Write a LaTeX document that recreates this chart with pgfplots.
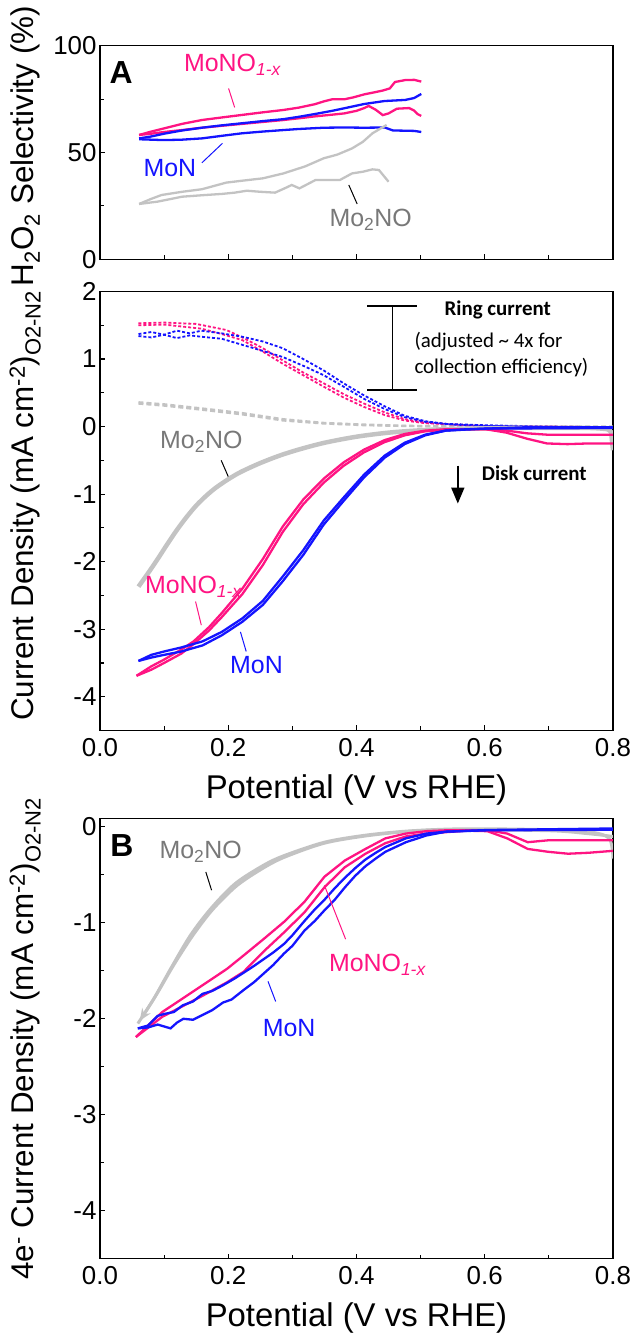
\documentclass[border=0pt]{standalone}
\usepackage{fontspec}
\setmainfont{Liberation Sans}
\newfontfamily\calibrifont{Carlito}
\usepackage{pgfplots}
\pgfplotsset{compat=1.18}
\usetikzlibrary{arrows.meta}
\definecolor{mpink}{RGB}{255,20,130}
\definecolor{mblue}{RGB}{20,20,255}
\definecolor{mgray}{RGB}{195,195,195}
\definecolor{tgray}{RGB}{120,120,120}
\pgfplotsset{panel/.style={
  scale only axis, width=513bp, xmin=0, xmax=0.8,
  axis line style={line width=1.3bp},
  tick style={line width=1.1bp, black},
  tick align=inside, xtick pos=lower, ytick pos=left,
  major tick length=5bp, minor tick length=4bp,
  xtick={0,0.2,0.4,0.6,0.8}, minor xtick={0.1,0.3,0.5,0.7},
  tick label style={font=\fontsize{26}{30}\selectfont},
  /pgf/number format/assume math mode=true,
  xticklabel style={yshift=-4bp,/pgf/number format/.cd,fixed,fixed zerofill,precision=1},
  label style={font=\fontsize{31.5}{36}\selectfont},
  xlabel style={font=\fontsize{33}{38}\selectfont},
  clip mode=individual,
  every axis plot/.append style={line width=2.3bp},
}}
\begin{document}
\begin{tikzpicture}
\path[use as bounding box] (0,0) rectangle (636bp,1337bp);
% ---------------- Top panel
\begin{axis}[panel, at={(100bp,1077.7bp)}, anchor=south west, height=213.6bp,
  ymin=0, ymax=100, ytick={0,50,100}, minor ytick={25,75}, xticklabels={},
  ylabel={H\textsubscript{2}O\textsubscript{2} Selectivity (\%)},
  ylabel style={at={(axis description cs:-0.146,0.53)},anchor=center}]
\addplot[mpink] coordinates {(0.061,58.2)(0.08,59.8)(0.10,61.3)(0.128,63.4)(0.159,65.2)(0.19,66.4)(0.222,67.6)(0.254,68.8)(0.286,69.9)(0.31,71.0)(0.335,72.6)(0.35,74.0)(0.362,74.9)(0.381,74.9)(0.395,75.8)(0.412,77.2)(0.43,78.3)(0.441,79.0)(0.452,80.0)(0.46,83.0)(0.476,83.9)(0.49,84.0)(0.501,83.2)};
\addplot[mpink] coordinates {(0.061,58.2)(0.08,58.8)(0.10,59.6)(0.128,60.5)(0.159,61.6)(0.19,62.5)(0.222,63.4)(0.254,64.3)(0.286,65.2)(0.31,66.0)(0.335,66.9)(0.362,67.7)(0.381,68.3)(0.40,69.5)(0.412,70.8)(0.419,71.8)(0.43,70.0)(0.441,67.5)(0.45,68.3)(0.463,70.5)(0.482,70.8)(0.49,69.6)(0.495,68.0)(0.501,67.1)};
\addplot[mblue] coordinates {(0.061,56.6)(0.08,57.5)(0.10,58.8)(0.128,60.3)(0.159,61.6)(0.19,62.7)(0.222,63.7)(0.254,64.7)(0.286,65.6)(0.31,66.7)(0.335,68.0)(0.362,69.5)(0.381,70.7)(0.412,72.7)(0.444,74.1)(0.476,74.6)(0.49,75.5)(0.501,77.4)};
\addplot[mblue] coordinates {(0.061,56.2)(0.08,56.0)(0.10,55.8)(0.128,56.0)(0.159,56.6)(0.19,57.8)(0.222,59.0)(0.254,59.8)(0.286,60.5)(0.31,61.0)(0.349,61.6)(0.381,61.7)(0.412,61.6)(0.444,61.7)(0.457,60.3)(0.476,60.2)(0.49,60.1)(0.501,59.6)};
\addplot[mgray] coordinates {(0.061,25.9)(0.08,28.3)(0.096,30.1)(0.128,31.6)(0.159,32.8)(0.197,35.9)(0.222,36.8)(0.254,37.9)(0.286,40.2)(0.32,43.5)(0.349,47.3)(0.37,49.0)(0.393,51.9)(0.41,55.0)(0.425,59.0)(0.447,62.9)};
\addplot[mgray] coordinates {(0.061,25.9)(0.09,27.0)(0.128,29.3)(0.16,30.0)(0.19,30.6)(0.21,31.2)(0.229,32.1)(0.25,31.6)(0.273,31.2)(0.29,33.5)(0.299,34.8)(0.311,33.2)(0.336,37.1)(0.374,37.1)(0.393,40.2)(0.41,41.0)(0.425,42.1)(0.435,41.8)(0.45,36.3)};
\node[font=\bfseries\fontsize{32}{36}\selectfont] at (axis cs:0.033,87.5) {A};
\node[mpink,font=\fontsize{25}{30}\selectfont] at (axis cs:0.207,91) {MoNO\textsubscript{\textit{1-x}}};
\draw[mpink,line width=1bp] (axis cs:0.2005,80) -- (axis cs:0.21,71.1);
\node[mblue,font=\fontsize{25}{30}\selectfont] at (axis cs:0.109,42.6) {MoN};
\draw[mblue,line width=1bp] (axis cs:0.159,45.2) -- (axis cs:0.191,54.3);
\node[tgray,font=\fontsize{25}{30}\selectfont] at (axis cs:0.422,18.4) {Mo\textsubscript{2}NO};
\draw[black,line width=1bp] (axis cs:0.388,34.8) -- (axis cs:0.401,25.9);
\end{axis}
% ---------------- Middle panel
\begin{axis}[panel, at={(100bp,606.5bp)}, anchor=south west, height=439bp,
  ymin=-4.5, ymax=2, ytick={-4,-3,-2,-1,0,1,2}, minor ytick={-3.5,-2.5,-1.5,-0.5,0.5,1.5},
  xlabel={Potential (V vs RHE)},
  xlabel style={at={(axis description cs:0.5,-0.1355)},anchor=center},
  ylabel={Current Density (mA cm\textsuperscript{-2})\textsubscript{O2-N2}},
  ylabel style={at={(axis description cs:-0.146,0.512)},anchor=center}]
% ring currents
\addplot[mgray,dash pattern=on 5bp off 3bp,line width=2.2bp] coordinates {(0.06,0.36)(0.1,0.33)(0.158,0.27)(0.222,0.20)(0.285,0.11)(0.349,0.055)(0.412,0.03)(0.475,0.012)(0.6,0.0)(0.8,0.0)};
\addplot[mgray,dash pattern=on 5bp off 3bp,line width=2.2bp] coordinates {(0.06,0.34)(0.1,0.31)(0.158,0.25)(0.222,0.18)(0.285,0.09)(0.349,0.045)(0.412,0.02)(0.475,0.008)(0.6,-0.005)(0.8,-0.01)};
\addplot[mpink,densely dashed,line width=1.8bp] coordinates {(0.06,1.53)(0.1,1.54)(0.15,1.52)(0.197,1.43)(0.222,1.32)(0.254,1.16)(0.285,0.98)(0.317,0.80)(0.349,0.64)(0.38,0.48)(0.412,0.34)(0.444,0.21)(0.475,0.11)(0.507,0.06)(0.539,0.04)(0.6,0.01)(0.7,0.0)(0.8,-0.01)};
\addplot[mpink,densely dashed,line width=1.8bp] coordinates {(0.06,1.50)(0.1,1.51)(0.158,1.45)(0.19,1.37)(0.222,1.28)(0.254,1.11)(0.285,0.93)(0.317,0.76)(0.349,0.59)(0.38,0.43)(0.412,0.29)(0.444,0.17)(0.475,0.09)(0.507,0.05)(0.55,0.03)(0.6,0.01)(0.8,-0.01)};
\addplot[mblue,densely dashed,line width=1.8bp] coordinates {(0.06,1.37)(0.08,1.40)(0.1,1.36)(0.12,1.42)(0.14,1.38)(0.158,1.42)(0.19,1.38)(0.222,1.33)(0.254,1.26)(0.285,1.16)(0.317,1.0)(0.349,0.83)(0.38,0.64)(0.412,0.46)(0.444,0.30)(0.475,0.16)(0.507,0.08)(0.539,0.04)(0.6,0.02)(0.7,0.0)(0.8,-0.01)};
\addplot[mblue,densely dashed,line width=1.8bp] coordinates {(0.06,1.34)(0.08,1.32)(0.1,1.36)(0.12,1.31)(0.14,1.35)(0.158,1.33)(0.19,1.30)(0.222,1.21)(0.254,1.12)(0.285,1.03)(0.317,0.90)(0.349,0.76)(0.38,0.59)(0.412,0.41)(0.444,0.26)(0.475,0.14)(0.507,0.07)(0.55,0.03)(0.6,0.01)(0.8,-0.02)};
% disk currents
\addplot[mgray,line width=4.5bp,smooth] coordinates {(0.06,-2.37)(0.075,-2.17)(0.09,-1.96)(0.105,-1.74)(0.12,-1.53)(0.135,-1.34)(0.15,-1.17)(0.165,-1.03)(0.18,-0.91)(0.2,-0.78)(0.22,-0.67)(0.25,-0.54)(0.28,-0.43)(0.31,-0.34)(0.35,-0.24)(0.4,-0.15)(0.45,-0.09)(0.5,-0.055)(0.55,-0.035)(0.65,-0.02)(0.76,-0.02)(0.792,-0.04)};
\addplot[mgray,line width=4.5bp] coordinates {(0.792,-0.04)(0.797,-0.08)(0.8,-0.35)};
\addplot[mpink] coordinates {(0.057,-3.69)(0.08,-3.6)(0.1,-3.5)(0.127,-3.36)(0.146,-3.22)(0.17,-3.02)(0.19,-2.82)(0.222,-2.48)(0.254,-2.05)(0.285,-1.56)(0.317,-1.15)(0.349,-0.83)(0.38,-0.58)(0.412,-0.38)(0.444,-0.23)(0.475,-0.13)(0.507,-0.07)(0.539,-0.045)(0.571,-0.04)(0.602,-0.04)(0.634,-0.09)(0.666,-0.18)(0.697,-0.25)(0.729,-0.26)(0.761,-0.25)(0.8,-0.25)};
\addplot[mpink] coordinates {(0.057,-3.69)(0.08,-3.55)(0.1,-3.45)(0.127,-3.30)(0.146,-3.18)(0.17,-2.97)(0.19,-2.76)(0.222,-2.40)(0.254,-1.96)(0.285,-1.48)(0.317,-1.08)(0.349,-0.77)(0.38,-0.53)(0.412,-0.34)(0.444,-0.20)(0.475,-0.11)(0.507,-0.06)(0.539,-0.04)(0.602,-0.04)(0.634,-0.06)(0.666,-0.10)(0.697,-0.12)(0.8,-0.12)};
\addplot[mblue] coordinates {(0.06,-3.47)(0.08,-3.42)(0.1,-3.38)(0.127,-3.33)(0.16,-3.24)(0.19,-3.09)(0.222,-2.89)(0.254,-2.64)(0.285,-2.29)(0.317,-1.90)(0.349,-1.45)(0.38,-1.10)(0.412,-0.75)(0.444,-0.46)(0.475,-0.26)(0.507,-0.13)(0.539,-0.06)(0.571,-0.04)(0.602,-0.03)(0.666,-0.01)(0.8,-0.01)};
\addplot[mblue] coordinates {(0.06,-3.47)(0.08,-3.38)(0.1,-3.33)(0.127,-3.27)(0.16,-3.18)(0.19,-3.04)(0.222,-2.84)(0.254,-2.58)(0.285,-2.22)(0.317,-1.83)(0.349,-1.39)(0.38,-1.05)(0.412,-0.71)(0.444,-0.43)(0.475,-0.24)(0.507,-0.12)(0.539,-0.06)(0.6,-0.03)(0.8,-0.02)};
% annotations
\draw[black,line width=1.8bp] (axis cs:0.417,1.79) -- (axis cs:0.494,1.79);
\draw[black,line width=1.8bp] (axis cs:0.417,0.54) -- (axis cs:0.494,0.54);
\draw[black,line width=1.8bp] (axis cs:0.456,1.79) -- (axis cs:0.456,0.54);
\node[anchor=west,font=\calibrifont\bfseries\fontsize{21}{25}\selectfont] at (axis cs:0.532,1.73) {Ring current};
\node[anchor=west,font=\calibrifont\fontsize{21}{25}\selectfont] at (axis cs:0.485,1.26) {(adjusted \textasciitilde{} 4x for};
\node[anchor=west,font=\calibrifont\fontsize{21}{25}\selectfont] at (axis cs:0.485,0.88) {collection efficiency)};
\draw[black,line width=1.8bp,-{Triangle[length=16bp,width=13bp]}] (axis cs:0.558,-0.58) -- (axis cs:0.558,-1.14);
\node[anchor=west,font=\calibrifont\bfseries\fontsize{21}{25}\selectfont] at (axis cs:0.59,-0.69) {Disk current};
\node[tgray,font=\fontsize{25}{30}\selectfont] at (axis cs:0.158,-0.23) {Mo\textsubscript{2}NO};
\draw[black,line width=1bp] (axis cs:0.189,-0.5) -- (axis cs:0.2,-0.74);
\node[mpink,font=\fontsize{25}{30}\selectfont] at (axis cs:0.146,-2.37) {MoNO\textsubscript{\textit{1-x}}};
\draw[mpink,line width=1bp] (axis cs:0.149,-2.59) -- (axis cs:0.158,-2.94);
\node[mblue,font=\fontsize{25}{30}\selectfont] at (axis cs:0.244,-3.53) {MoN};
\draw[mblue,line width=1bp] (axis cs:0.219,-3.04) -- (axis cs:0.228,-3.33);
\end{axis}
% ---------------- Bottom panel
\begin{axis}[panel, at={(100bp,78.3bp)}, anchor=south west, height=440bp,
  ymin=-4.5, ymax=0.085, ytick={-4,-3,-2,-1,0}, minor ytick={-3.5,-2.5,-1.5,-0.5},
  xlabel={Potential (V vs RHE)},
  xlabel style={at={(axis description cs:0.5,-0.135)},anchor=center},
  ylabel={4e\textsuperscript{-} Current Density (mA cm\textsuperscript{-2})\textsubscript{O2-N2}},
  ylabel style={at={(axis description cs:-0.146,0.5)},anchor=center}]
\addplot[mgray,line width=3bp,smooth] coordinates {(0.059,-2.05)(0.087,-1.76)(0.115,-1.44)(0.145,-1.13)(0.176,-0.86)(0.214,-0.61)(0.257,-0.42)(0.29,-0.31)(0.35,-0.17)(0.414,-0.095)(0.477,-0.05)(0.54,-0.03)(0.7,-0.04)(0.76,-0.07)(0.8,-0.10)};
\addplot[mgray,line width=3bp,smooth,-{Stealth[length=12bp,width=10bp]}] coordinates {(0.8,-0.33)(0.794,-0.12)(0.762,-0.05)(0.7,-0.03)(0.6,-0.02)(0.54,-0.024)(0.477,-0.045)(0.414,-0.087)(0.35,-0.16)(0.287,-0.30)(0.255,-0.40)(0.211,-0.59)(0.173,-0.85)(0.141,-1.13)(0.11,-1.48)(0.084,-1.79)(0.062,-2.02)};
\addplot[mpink] coordinates {(0.056,-2.19)(0.097,-1.93)(0.16,-1.65)(0.198,-1.48)(0.224,-1.34)(0.255,-1.17)(0.287,-0.99)(0.319,-0.78)(0.35,-0.52)(0.382,-0.35)(0.414,-0.23)(0.445,-0.12)(0.477,-0.07)(0.509,-0.045)(0.54,-0.036)(0.604,-0.035)(0.635,-0.07)(0.667,-0.16)(0.699,-0.14)(0.762,-0.14)(0.8,-0.14)};
\addplot[mpink] coordinates {(0.056,-2.19)(0.097,-1.98)(0.16,-1.76)(0.198,-1.62)(0.224,-1.51)(0.255,-1.30)(0.287,-1.10)(0.319,-0.89)(0.35,-0.63)(0.382,-0.42)(0.414,-0.28)(0.445,-0.17)(0.477,-0.10)(0.509,-0.07)(0.572,-0.04)(0.604,-0.045)(0.635,-0.12)(0.667,-0.23)(0.699,-0.26)(0.73,-0.28)(0.762,-0.27)(0.8,-0.25)};
\addplot[mblue] coordinates {(0.059,-2.1)(0.075,-2.07)(0.09,-1.97)(0.1,-1.95)(0.115,-1.93)(0.129,-1.86)(0.145,-1.82)(0.16,-1.74)(0.175,-1.71)(0.192,-1.65)(0.21,-1.58)(0.224,-1.52)(0.24,-1.45)(0.255,-1.38)(0.27,-1.31)(0.287,-1.22)(0.30,-1.13)(0.319,-0.98)(0.335,-0.86)(0.35,-0.76)(0.366,-0.64)(0.382,-0.53)(0.398,-0.43)(0.414,-0.34)(0.43,-0.27)(0.445,-0.21)(0.477,-0.12)(0.509,-0.07)(0.54,-0.05)(0.604,-0.033)(0.7,-0.025)(0.8,-0.017)};
\addplot[mblue] coordinates {(0.059,-2.1)(0.075,-2.09)(0.09,-2.06)(0.1,-2.08)(0.11,-2.1)(0.12,-2.04)(0.13,-2.0)(0.145,-2.01)(0.16,-1.96)(0.175,-1.91)(0.192,-1.83)(0.205,-1.80)(0.224,-1.70)(0.24,-1.62)(0.255,-1.53)(0.27,-1.44)(0.287,-1.32)(0.30,-1.24)(0.319,-1.08)(0.335,-0.98)(0.35,-0.87)(0.366,-0.76)(0.382,-0.63)(0.398,-0.51)(0.414,-0.41)(0.43,-0.33)(0.445,-0.26)(0.477,-0.16)(0.509,-0.09)(0.54,-0.05)(0.604,-0.036)(0.7,-0.033)(0.8,-0.03)};
\node[font=\bfseries\fontsize{32}{36}\selectfont] at (axis cs:0.034,-0.19) {B};
\node[tgray,font=\fontsize{25}{30}\selectfont] at (axis cs:0.157,-0.26) {Mo\textsubscript{2}NO};
\draw[black,line width=1bp] (axis cs:0.165,-0.47) -- (axis cs:0.174,-0.66);
\node[mpink,font=\fontsize{25}{30}\selectfont] at (axis cs:0.433,-1.44) {MoNO\textsubscript{\textit{1-x}}};
\draw[mpink,line width=1bp] (axis cs:0.35,-0.61) -- (axis cs:0.383,-1.17);
\node[mblue,font=\fontsize{25}{30}\selectfont] at (axis cs:0.295,-2.1) {MoN};
\draw[mblue,line width=1bp] (axis cs:0.262,-1.61) -- (axis cs:0.274,-1.82);
\end{axis}
\end{tikzpicture}
\end{document}
